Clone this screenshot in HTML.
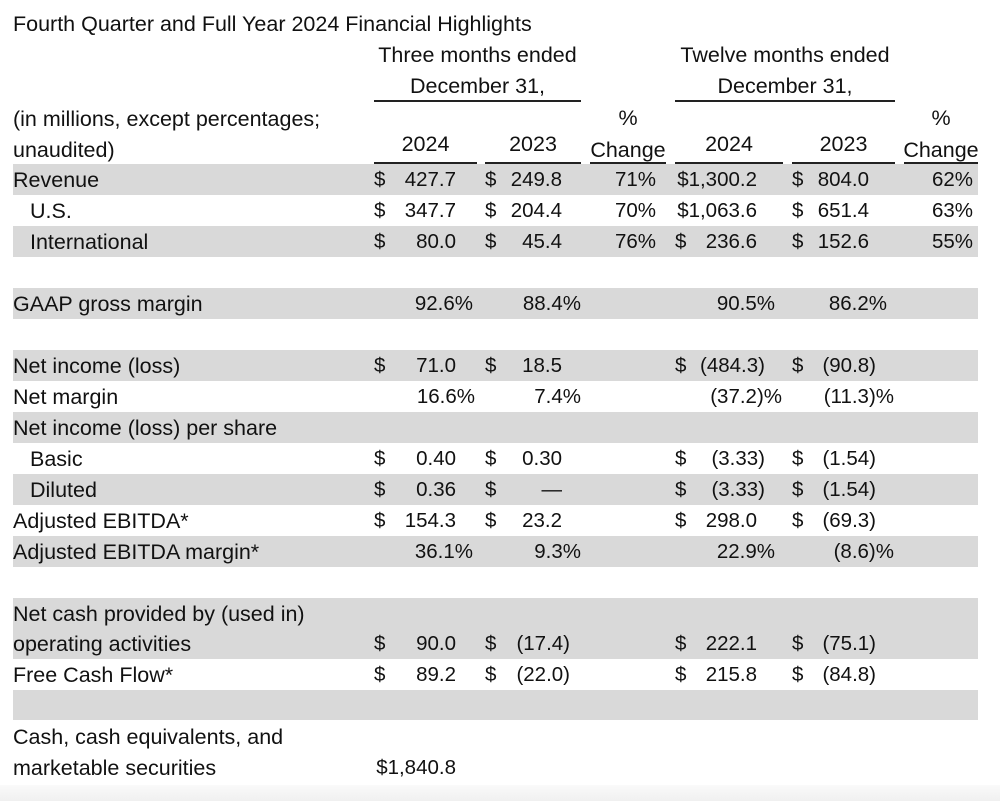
<!DOCTYPE html>
<html><head><meta charset="utf-8"><style>
body{margin:0;background:#fff;}
#p{position:relative;width:1000px;height:801px;overflow:hidden;font-family:"Liberation Sans",Arial,sans-serif;font-size:20.5px;color:#111;background:#fff;}
.b{position:absolute;left:13px;width:965px;background:#d9d9d9;}
.t{position:absolute;height:30px;line-height:30px;white-space:nowrap;}
.l{font-size:21.5px;}
.r{position:absolute;height:30px;line-height:30px;white-space:nowrap;text-align:right;}
.u{position:absolute;height:1.5px;background:#222;}
.foot{position:absolute;left:0;top:785px;width:1000px;height:16px;background:linear-gradient(#fafafa,#f0f0f0);}
</style></head><body><div id="p">
<div class="b" style="top:164px;height:31px"></div>
<div class="b" style="top:226px;height:31px"></div>
<div class="b" style="top:288px;height:31px"></div>
<div class="b" style="top:350px;height:31px"></div>
<div class="b" style="top:412px;height:31px"></div>
<div class="b" style="top:474px;height:31px"></div>
<div class="b" style="top:536px;height:31px"></div>
<div class="b" style="top:598px;height:61px"></div>
<div class="b" style="top:690px;height:30px"></div>
<div class="foot"></div>

<div class="t l" style="left:13px;top:9px">Fourth Quarter and Full Year 2024 Financial Highlights</div>
<div class="t l" style="left:364px;width:227px;text-align:center;top:40px">Three months ended</div>
<div class="t l" style="left:364px;width:227px;text-align:center;top:71px">December 31,</div>
<div class="t l" style="left:665px;width:240px;text-align:center;top:40px">Twelve months ended</div>
<div class="t l" style="left:665px;width:240px;text-align:center;top:71px">December 31,</div>
<div class="u" style="left:374px;width:207px;top:100px"></div>
<div class="u" style="left:675px;width:220px;top:100px"></div>
<div class="t l" style="left:13px;top:104px">(in millions, except percentages;</div>
<div class="t l" style="left:13px;top:135px">unaudited)</div>
<div class="t l" style="left:580px;width:96px;text-align:center;top:103px">%</div>
<div class="t l" style="left:580px;width:96px;text-align:center;top:135px">Change</div>
<div class="t l" style="left:894px;width:94px;text-align:center;top:103px">%</div>
<div class="t l" style="left:894px;width:94px;text-align:center;top:135px">Change</div>
<div class="t l" style="left:374px;width:103px;text-align:center;top:129px">2024</div>
<div class="t l" style="left:485px;width:96px;text-align:center;top:129px">2023</div>
<div class="t l" style="left:675px;width:108px;text-align:center;top:129px">2024</div>
<div class="t l" style="left:792px;width:103px;text-align:center;top:129px">2023</div>
<div class="u" style="left:374px;width:103px;top:162px"></div>
<div class="u" style="left:485px;width:96px;top:162px"></div>
<div class="u" style="left:590px;width:76px;top:162px"></div>
<div class="u" style="left:675px;width:108px;top:162px"></div>
<div class="u" style="left:792px;width:103px;top:162px"></div>
<div class="u" style="left:904px;width:74px;top:162px"></div>

<div class="t l" style="left:13px;top:165px">Revenue</div>
<div class="t" style="left:374px;top:165px">$</div><div class="r" style="right:544px;top:165px">427.7</div>
<div class="t" style="left:485px;top:165px">$</div><div class="r" style="right:438px;top:165px">249.8</div>
<div class="r" style="right:344px;top:165px">71%</div>
<div class="r" style="right:243px;top:165px">$1,300.2</div>
<div class="t" style="left:792px;top:165px">$</div><div class="r" style="right:131px;top:165px">804.0</div>
<div class="r" style="right:27px;top:165px">62%</div>

<div class="t l" style="left:30px;top:196px">U.S.</div>
<div class="t" style="left:374px;top:196px">$</div><div class="r" style="right:544px;top:196px">347.7</div>
<div class="t" style="left:485px;top:196px">$</div><div class="r" style="right:438px;top:196px">204.4</div>
<div class="r" style="right:344px;top:196px">70%</div>
<div class="r" style="right:243px;top:196px">$1,063.6</div>
<div class="t" style="left:792px;top:196px">$</div><div class="r" style="right:131px;top:196px">651.4</div>
<div class="r" style="right:27px;top:196px">63%</div>

<div class="t l" style="left:30px;top:227px">International</div>
<div class="t" style="left:374px;top:227px">$</div><div class="r" style="right:544px;top:227px">80.0</div>
<div class="t" style="left:485px;top:227px">$</div><div class="r" style="right:438px;top:227px">45.4</div>
<div class="r" style="right:344px;top:227px">76%</div>
<div class="t" style="left:675px;top:227px">$</div><div class="r" style="right:243px;top:227px">236.6</div>
<div class="t" style="left:792px;top:227px">$</div><div class="r" style="right:131px;top:227px">152.6</div>
<div class="r" style="right:27px;top:227px">55%</div>

<div class="t l" style="left:13px;top:289px">GAAP gross margin</div>
<div class="r" style="right:527px;top:289px">92.6%</div>
<div class="r" style="right:419px;top:289px">88.4%</div>
<div class="r" style="right:225px;top:289px">90.5%</div>
<div class="r" style="right:113px;top:289px">86.2%</div>

<div class="t l" style="left:13px;top:351px">Net income (loss)</div>
<div class="t" style="left:374px;top:351px">$</div><div class="r" style="right:544px;top:351px">71.0</div>
<div class="t" style="left:485px;top:351px">$</div><div class="r" style="right:438px;top:351px">18.5</div>
<div class="t" style="left:675px;top:351px">$</div><div class="r" style="right:235px;top:351px">(484.3)</div>
<div class="t" style="left:792px;top:351px">$</div><div class="r" style="right:124px;top:351px">(90.8)</div>

<div class="t l" style="left:13px;top:382px">Net margin</div>
<div class="r" style="right:525px;top:382px">16.6%</div>
<div class="r" style="right:419px;top:382px">7.4%</div>
<div class="r" style="right:218px;top:382px">(37.2)%</div>
<div class="r" style="right:106px;top:382px">(11.3)%</div>

<div class="t l" style="left:13px;top:413px">Net income (loss) per share</div>
<div class="t l" style="left:30px;top:444px">Basic</div>
<div class="t" style="left:374px;top:444px">$</div><div class="r" style="right:544px;top:444px">0.40</div>
<div class="t" style="left:485px;top:444px">$</div><div class="r" style="right:438px;top:444px">0.30</div>
<div class="t" style="left:675px;top:444px">$</div><div class="r" style="right:235px;top:444px">(3.33)</div>
<div class="t" style="left:792px;top:444px">$</div><div class="r" style="right:124px;top:444px">(1.54)</div>
<div class="t l" style="left:30px;top:475px">Diluted</div>
<div class="t" style="left:374px;top:475px">$</div><div class="r" style="right:544px;top:475px">0.36</div>
<div class="t" style="left:485px;top:475px">$</div><div class="r" style="right:438px;top:475px">—</div>
<div class="t" style="left:675px;top:475px">$</div><div class="r" style="right:235px;top:475px">(3.33)</div>
<div class="t" style="left:792px;top:475px">$</div><div class="r" style="right:124px;top:475px">(1.54)</div>

<div class="t l" style="left:13px;top:506px">Adjusted EBITDA*</div>
<div class="t" style="left:374px;top:506px">$</div><div class="r" style="right:544px;top:506px">154.3</div>
<div class="t" style="left:485px;top:506px">$</div><div class="r" style="right:438px;top:506px">23.2</div>
<div class="t" style="left:675px;top:506px">$</div><div class="r" style="right:243px;top:506px">298.0</div>
<div class="t" style="left:792px;top:506px">$</div><div class="r" style="right:124px;top:506px">(69.3)</div>
<div class="t l" style="left:13px;top:537px">Adjusted EBITDA margin*</div>
<div class="r" style="right:527px;top:537px">36.1%</div>
<div class="r" style="right:419px;top:537px">9.3%</div>
<div class="r" style="right:225px;top:537px">22.9%</div>
<div class="r" style="right:106px;top:537px">(8.6)%</div>

<div class="t l" style="left:13px;top:599px">Net cash provided by (used in)</div>
<div class="t l" style="left:13px;top:629px">operating activities</div>
<div class="t" style="left:374px;top:629px">$</div><div class="r" style="right:544px;top:629px">90.0</div>
<div class="t" style="left:485px;top:629px">$</div><div class="r" style="right:430px;top:629px">(17.4)</div>
<div class="t" style="left:675px;top:629px">$</div><div class="r" style="right:243px;top:629px">222.1</div>
<div class="t" style="left:792px;top:629px">$</div><div class="r" style="right:124px;top:629px">(75.1)</div>
<div class="t l" style="left:13px;top:660px">Free Cash Flow*</div>
<div class="t" style="left:374px;top:660px">$</div><div class="r" style="right:544px;top:660px">89.2</div>
<div class="t" style="left:485px;top:660px">$</div><div class="r" style="right:430px;top:660px">(22.0)</div>
<div class="t" style="left:675px;top:660px">$</div><div class="r" style="right:243px;top:660px">215.8</div>
<div class="t" style="left:792px;top:660px">$</div><div class="r" style="right:124px;top:660px">(84.8)</div>
<div class="t l" style="left:13px;top:722px">Cash, cash equivalents, and</div>
<div class="t l" style="left:13px;top:753px">marketable securities</div>
<div class="r" style="right:544px;top:753px">$1,840.8</div>
</div></body></html>
